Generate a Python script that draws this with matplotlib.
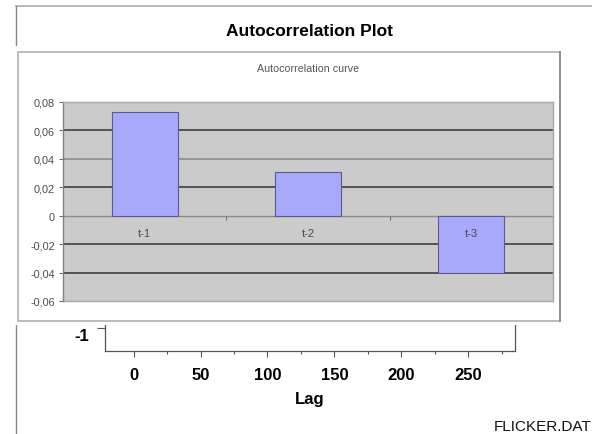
import matplotlib
matplotlib.use("Agg")

import matplotlib.pyplot as plt
from matplotlib.patches import Rectangle
from matplotlib.lines import Line2D
from matplotlib.ticker import FixedLocator, MultipleLocator

# -----------------------------
# DANE
# -----------------------------

lag_labels = ["t-1", "t-2", "t-3"]
acf_values = [0.0732, 0.0307, -0.0405]

y_ticks = [-0.06, -0.04, -0.02, 0.0, 0.02, 0.04, 0.06, 0.08]
y_tick_labels = ["-0,06", "-0,04", "-0,02", "0", "0,02", "0,04", "0,06", "0,08"]

lag_ticks = [0, 50, 100, 150, 200, 250]

W, H = 592, 435

plt.rcParams["font.family"] = ["Liberation Sans", "DejaVu Sans"]


def box(left, top, right, bottom):
    # prostokąt w pikselach (od góry) -> współrzędne figury
    return [left / W, 1 - bottom / H, (right - left) / W, (bottom - top) / H]


fig = plt.figure(figsize=(W / 100, H / 100), dpi=100, facecolor="white")

# -----------------------------
# RAMKA DATAPLOT (pod spodem)
# -----------------------------

ax_dp = fig.add_axes(box(105, 79.5, 515, 351.7), zorder=0)
ax_dp.set_facecolor("white")
ax_dp.set_xlim(-21.4, 285)
ax_dp.set_ylim(-1.2, 1.2)
ax_dp.spines["top"].set_visible(False)
for s in ["left", "bottom", "right"]:
    ax_dp.spines[s].set_color("#555555")
    ax_dp.spines[s].set_linewidth(0.9)

ax_dp.set_yticks([-1])
ax_dp.set_yticklabels(["-1"], fontsize=12, fontweight="bold")
ax_dp.tick_params(axis="y", direction="out", length=6, width=0.8,
                  color="#555555", pad=5.5)
for lbl in ax_dp.get_yticklabels():
    lbl.set_va("top")

ax_dp.xaxis.set_major_locator(FixedLocator(lag_ticks))
ax_dp.xaxis.set_minor_locator(MultipleLocator(25))
ax_dp.tick_params(axis="x", which="major", direction="out", length=4,
                  width=0.8, color="#555555", pad=8, labelsize=12)
ax_dp.tick_params(axis="x", which="minor", direction="out", length=2,
                  width=0.8, color="#555555")
for lbl in ax_dp.get_xticklabels():
    lbl.set_fontweight("bold")
ax_dp.set_xlabel("Lag", fontsize=12, fontweight="bold", labelpad=6)

fig.text(494 / W, 1 - 427 / H, "FLICKER.DAT", fontsize=11,
         ha="left", va="center", color="#111111")

# linie ramki strony
fig.add_artist(Line2D([16 / W, 1.0], [1 - 7 / H, 1 - 7 / H],
                      color="#aaaaaa", lw=1.2, zorder=0.5))
fig.add_artist(Line2D([16 / W, 16 / W], [1 - 7 / H, 0.0],
                      color="#888888", lw=1.0, zorder=0.5))

fig.suptitle("Autocorrelation Plot", x=310 / W, y=1 - 31 / H,
             fontsize=12.5, fontweight="bold", va="center")

# -----------------------------
# WKLEJONY WYKRES EXCELA
# -----------------------------

fig.add_artist(Rectangle((12 / W, 1 - 326 / H), (566 - 12) / W, (326 - 47) / H,
                         transform=fig.transFigure, facecolor="white",
                         edgecolor="none", zorder=1))
fig.add_artist(Rectangle((18 / W, 1 - 322 / H), (560 - 18) / W, (322 - 53) / H,
                         transform=fig.transFigure, facecolor="white",
                         edgecolor="#b0b0b0", lw=1.2, zorder=1.5))
fig.add_artist(Line2D([560 / W, 560 / W], [1 - 322 / H, 1 - 53 / H],
                      color="#909090", lw=1.4, zorder=1.6))

ax = fig.add_axes(box(63, 103, 553, 302), zorder=2)
ax.set_facecolor("#cbcbcb")
ax.set_xlim(0, 3)
ax.set_ylim(-0.06, 0.08)

# linie siatki
grid_colors = {-0.04: "#333333", -0.02: "#333333", 0.02: "#333333",
               0.04: "#888888", 0.06: "#333333"}
for yv, c in grid_colors.items():
    ax.axhline(yv, color=c, lw=1.1, zorder=1)
ax.axhline(-0.06, color="#a8a8a8", lw=1.0, zorder=1, clip_on=False)

x_pos = [i + 0.5 for i in range(len(lag_labels))]
ax.bar(x_pos, acf_values, width=0.405, color="#a8a9fb",
       edgecolor="#5a5a8e", linewidth=0.8, zorder=3)

ax.set_yticks(y_ticks)
ax.set_yticklabels(y_tick_labels)
ax.tick_params(axis="y", direction="out", length=3, width=0.8,
               color="#707070", labelsize=7.8, labelcolor="#4a4a4a", pad=3)

ax.spines["bottom"].set_position(("data", 0))
ax.spines["bottom"].set_color("#8a8a8a")
ax.spines["bottom"].set_zorder(2)
ax.spines["left"].set_color("#808080")
ax.spines["top"].set_color("#a8a8a8")
ax.spines["right"].set_color("#a8a8a8")
for s in ax.spines.values():
    s.set_linewidth(1.0)

ax.set_xticks(x_pos)
ax.set_xticklabels(lag_labels)
ax.set_xticks([1, 2], minor=True)
ax.tick_params(axis="x", which="major", length=0, labelsize=8,
               labelcolor="#4a4a4a", pad=9)
ax.tick_params(axis="x", which="minor", direction="out", length=3,
               width=0.8, color="#707070")
# etykiety kategorii nad słupkami (t-3 leży na słupku)
ax.xaxis.set_zorder(4)

ax.set_title("Autocorrelation curve", fontsize=7.7, color="#555555", pad=22)

fig.savefig("out.png", dpi=100, facecolor="white")
